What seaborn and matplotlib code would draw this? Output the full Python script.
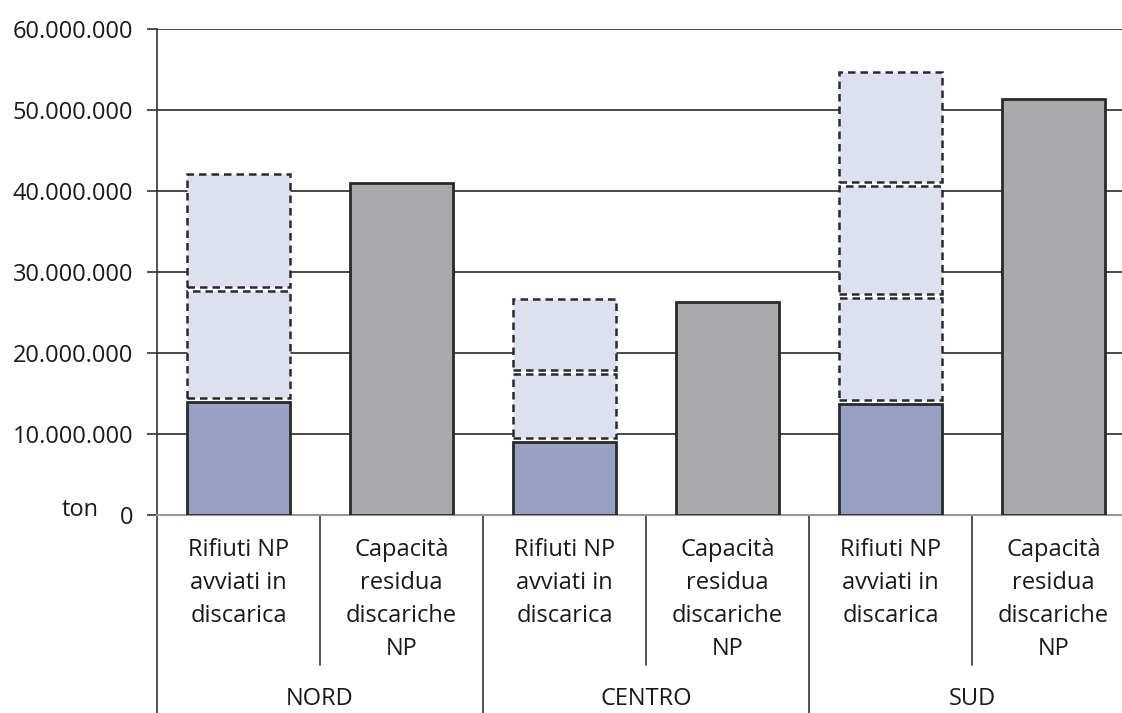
import pandas as pd
import numpy as np
import seaborn as sns
import matplotlib.pyplot as plt
from matplotlib.ticker import FuncFormatter

# dati (tonnellate)
aree = ['NORD', 'CENTRO', 'SUD']
voci = ['Rifiuti NP\navviati in\ndiscarica', 'Capacità\nresidua\ndiscariche\nNP']
rifiuti_np = [13.9e6, 9.0e6, 13.7e6]
capacita_residua = [41.0e6, 26.3e6, 51.4e6]
# proiezioni cumulate degli anni successivi (tratteggiate)
proiezioni_nord = [27.7e6, 42.1e6]
proiezioni_centro = [17.4e6, 26.7e6]
proiezioni_sud = [26.8e6, 40.6e6, 54.7e6]
y_ticks = [0, 10e6, 20e6, 30e6, 40e6, 50e6, 60e6]

sns.set_theme(style='white')
plt.rcParams['font.family'] = ['Open Sans', 'DejaVu Sans']
plt.rcParams['font.size'] = 17
testo = '#1a1a1a'

# tabella per seaborn
righe = []
for i, a in enumerate(aree):
    righe.append({'chiave': a + '_rif', 'valore': rifiuti_np[i], 'tipo': 'rifiuti'})
    righe.append({'chiave': a + '_cap', 'valore': capacita_residua[i], 'tipo': 'capacita'})
df = pd.DataFrame(righe)
ordine = list(df['chiave'])

fig = plt.figure(figsize=(11.22, 7.13), dpi=100)
ax = fig.add_axes([157 / 1122, 198 / 713, 978 / 1122, 486 / 713])

bar_w = 0.63
sns.barplot(data=df, x='chiave', y='valore', hue='tipo', order=ordine,
            palette={'rifiuti': '#8F9DC8', 'capacita': '#A9AAAD'},
            dodge=False, width=bar_w, edgecolor='#2a2a2a', linewidth=2,
            legend=False, ax=ax, zorder=3)

# segmenti tratteggiati sopra i rifiuti
gap = 0.5e6
proiezioni = [proiezioni_nord, proiezioni_centro, proiezioni_sud]
for i, proj in enumerate(proiezioni):
    pos = ordine.index(aree[i] + '_rif')
    base = rifiuti_np[i]
    for top in proj:
        ax.bar(pos, top - base - gap, bottom=base + gap, width=bar_w,
               color='#DDE1EF', edgecolor='#2a2a2a', linewidth=1.8,
               linestyle=(0, (3, 2)), zorder=3)
        base = top

ax.set_xlim(-0.5, 5.5)
ax.set_ylim(0, 60e6)
ax.set_yticks(y_ticks)
ax.yaxis.set_major_formatter(FuncFormatter(lambda v, p: f'{int(v):,}'.replace(',', '.')))
ax.yaxis.grid(True, color='#3a3a3a', linewidth=1.3, zorder=0)
ax.set_axisbelow(True)
ax.tick_params(axis='y', length=7, width=1.2, color='#333333', pad=10,
               labelsize=17, labelcolor=testo, left=True)
ax.tick_params(axis='x', bottom=False, labelbottom=False)
ax.set_xlabel('')
ax.set_ylabel('')
for s in ['top', 'right']:
    ax.spines[s].set_visible(False)
ax.spines['left'].set_color('#333333')
ax.spines['left'].set_linewidth(1.2)
ax.spines['bottom'].set_color('#999999')
ax.spines['bottom'].set_linewidth(1.5)

# etichette categoriali sotto l'asse
trans = ax.get_xaxis_transform()
for k in range(6):
    ax.text(k, -0.048, voci[k % 2], transform=trans, ha='center', va='top',
            fontsize=17, color=testo, linespacing=1.5)
for k in range(3):
    ax.text(2 * k + 0.5, -0.378, aree[k], transform=trans, ha='center',
            va='center', fontsize=17, color=testo)
    ax.plot([2 * k + 0.5, 2 * k + 0.5], [0, -0.309], transform=trans,
            color='#333333', linewidth=1.2, clip_on=False)
    ax.plot([2 * k - 0.5, 2 * k - 0.5], [0, -0.41], transform=trans,
            color='#333333', linewidth=1.2, clip_on=False)

fig.text(80 / 1122, 1 - 510 / 713, 'ton', ha='center', va='center',
         fontsize=17, color=testo)

fig.savefig('out.png', dpi=100)
